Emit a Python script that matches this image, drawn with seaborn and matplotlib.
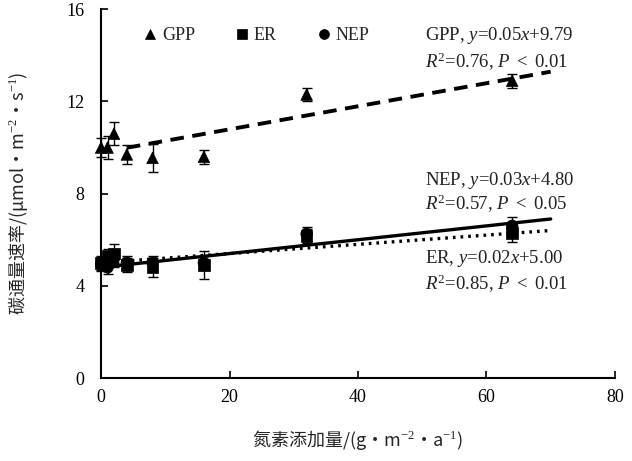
import numpy as np
import pandas as pd
import seaborn as sns
import matplotlib.pyplot as plt

# N addition levels (g m-2 a-1)
n_levels = [0, 1, 2, 4, 8, 16, 32, 64]

# carbon flux means and standard errors
gpp_mean = [10.0, 10.0, 10.6, 9.7, 9.55, 9.6, 12.3, 12.9]
gpp_err = [0.4, 0.5, 0.5, 0.4, 0.6, 0.3, 0.3, 0.3]
er_mean = [5.0, 5.3, 5.4, 4.9, 4.8, 4.9, 6.15, 6.3]
er_err = [0.3, 0.3, 0.4, 0.3, 0.4, 0.6, 0.3, 0.4]
nep_mean = [4.95, 4.8, 5.2, 5.0, 5.0, 5.0, 6.25, 6.6]
nep_err = [0.3, 0.3, 0.4, 0.3, 0.3, 0.3, 0.3, 0.4]

# linear fits: slope, intercept, x range
fit_slope = {"GPP": 0.05, "ER": 0.02, "NEP": 0.03}
fit_icept = {"GPP": 9.79, "ER": 5.00, "NEP": 4.80}
fit_range = {"GPP": (4, 70), "ER": (0, 70), "NEP": (0, 70)}

sns.set_theme(style="ticks")
plt.rcParams["font.family"] = ["Liberation Serif", "Noto Sans CJK SC"]
plt.rcParams["mathtext.fontset"] = "custom"
plt.rcParams["mathtext.rm"] = "Liberation Serif"
plt.rcParams["mathtext.it"] = "Liberation Serif:italic"

df = pd.DataFrame({
    "N": n_levels * 3,
    "rate": gpp_mean + er_mean + nep_mean,
    "err": gpp_err + er_err + nep_err,
    "flux": ["GPP"] * 8 + ["ER"] * 8 + ["NEP"] * 8,
})

fig = plt.figure(figsize=(6.32, 4.61), dpi=100)
ax = fig.add_axes([0.160, 0.180, 0.813, 0.800])

# regression lines
line_styles = {"GPP": (0, (3.5, 2.2)), "ER": (0, (0.8, 1.5)), "NEP": "-"}
line_widths = {"GPP": 2.8, "ER": 2.4, "NEP": 2.4}
for name in ["GPP", "ER", "NEP"]:
    xs = np.array(fit_range[name], dtype=float)
    ys = fit_slope[name] * xs + fit_icept[name]
    sns.lineplot(x=xs, y=ys, ax=ax, color="black", linestyle=line_styles[name],
                 linewidth=line_widths[name], legend=False)

eb = ax.errorbar(df["N"], df["rate"], yerr=df["err"], fmt="none", ecolor="black",
                 elinewidth=1, capsize=3.5, capthick=1, zorder=3)
for art in eb.lines[1] + eb.lines[2]:
    art.set_clip_on(False)

sns.scatterplot(data=df, x="N", y="rate", style="flux",
                markers={"GPP": "^", "ER": "s", "NEP": "o"},
                color="black", s=70, edgecolor="black", linewidth=0.5,
                ax=ax, zorder=4, clip_on=False)

leg = ax.legend(loc="upper left", bbox_to_anchor=(0.05, 0.995), ncol=3,
                frameon=False, fontsize=13, columnspacing=2.2,
                handlelength=0.8, handletextpad=0.25, markerscale=0.85)

ax.set_xlim(0, 80)
ax.set_ylim(0, 16)
ax.set_xticks([0, 20, 40, 60, 80])
ax.set_yticks([0, 4, 8, 12, 16])
ax.tick_params(direction="in", length=5, width=1.2, labelsize=13, colors="black")
ax.tick_params(axis="x", pad=8)
ax.tick_params(axis="y", pad=12)
for side in ["left", "bottom"]:
    ax.spines[side].set_linewidth(1.5)
    ax.spines[side].set_color("black")
sns.despine(ax=ax)

ax.set_xlabel("氮素添加量/(g・m$^{-2}$・a$^{-1}$)", fontsize=13,
              family=["Noto Sans CJK SC"], labelpad=16)
ax.set_ylabel("碳通量速率/(μmol・m$^{-2}$・s$^{-1}$)", fontsize=13,
              family=["Noto Sans CJK SC"], labelpad=26)

txt = dict(fontsize=13.5, color="#222222", ha="left", va="center")
ax.text(50.4, 14.87, r"GPP, $y$=0.05$x$+9.79", **txt)
ax.text(50.4, 13.7, r"$R^2$=0.76, $P$ $<$ 0.01", **txt)
ax.text(50.4, 8.59, r"NEP, $y$=0.03$x$+4.80", **txt)
ax.text(50.4, 7.55, r"$R^2$=0.57, $P$ $<$ 0.05", **txt)
ax.text(50.4, 5.2, r"ER, $y$=0.02$x$+5.00", **txt)
ax.text(50.4, 4.08, r"$R^2$=0.85, $P$ $<$ 0.01", **txt)

fig.savefig("out.png", dpi=100)
